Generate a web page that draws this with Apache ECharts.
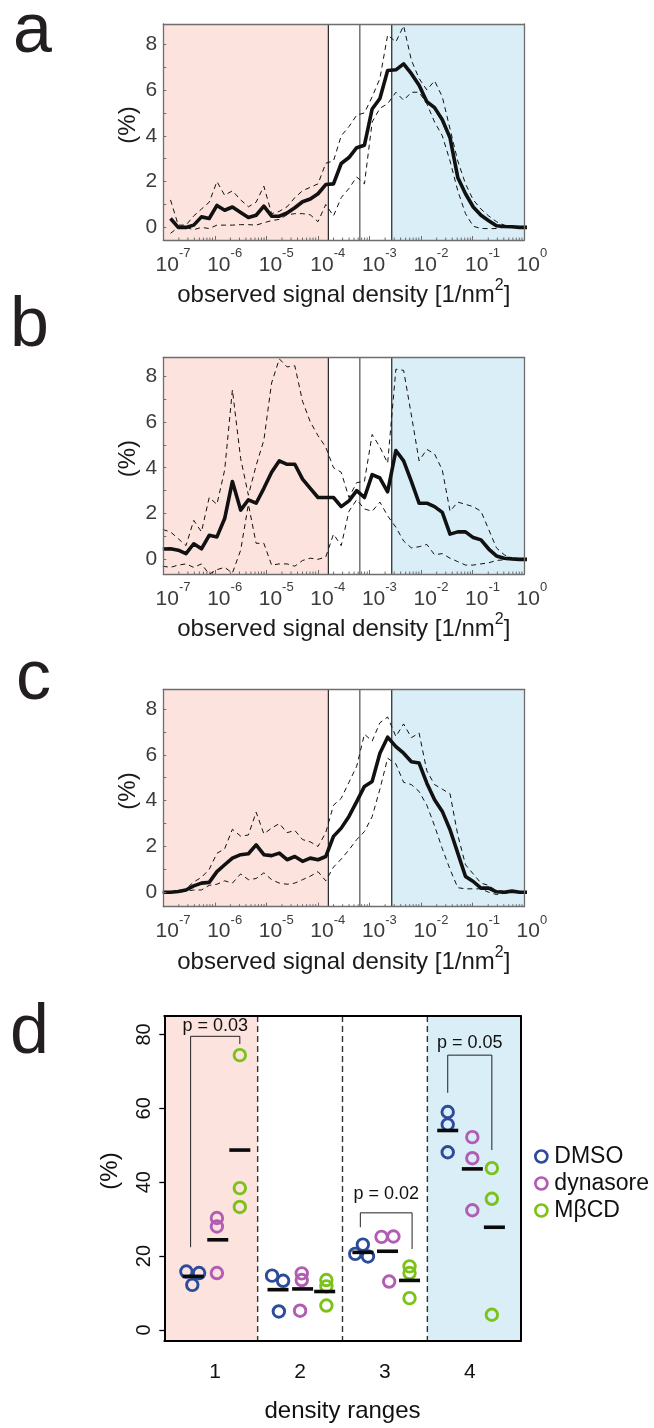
<!DOCTYPE html>
<html><head><meta charset="utf-8">
<script src="https://cdn.jsdelivr.net/npm/echarts@6/dist/echarts.min.js"></script>
<style>html,body{margin:0;padding:0;background:#fff}#chart{width:654px;height:1428px}</style>
</head><body><div id="chart"></div>
<script>
// ---------- data ----------
// bin centres, log10 of observed signal density [1/nm^2]
const logDensity = [-7.01,-6.86,-6.71,-6.56,-6.41,-6.26,-6.11,-5.96,-5.81,-5.66,-5.50,-5.35,-5.20,-5.05,-4.90,-4.75,-4.60,-4.45,-4.30,-4.15,-4.00,-3.85,-3.70,-3.55,-3.40,-3.25,-3.10,-2.95,-2.80,-2.65,-2.49,-2.34,-2.19,-2.04,-1.89,-1.74,-1.59,-1.44,-1.29,-1.14,-0.99,-0.84,-0.69,-0.54,-0.39,-0.24,-0.09,0.06];

const dmsoMean  = [null,0.39,0.0,0.0,0.1,0.46,0.39,0.96,0.75,0.89,0.65,0.43,0.53,0.93,0.49,0.49,0.63,0.86,1.12,1.24,1.47,1.87,1.9,2.79,3.05,3.48,3.59,5.17,5.63,6.85,6.88,7.14,6.71,6.21,5.49,5.23,4.7,3.91,2.18,1.47,0.89,0.53,0.29,0.07,0.04,0.03,0.0,0.0];
const dmsoUpper = [null,1.2,0.1,0.1,0.5,0.8,1.1,2.0,1.4,1.6,1.2,0.9,1.1,1.8,0.6,0.7,0.9,1.3,1.6,1.75,1.9,2.8,2.9,4.0,4.4,4.9,5.0,5.7,6.5,8.4,8.1,8.8,7.3,6.5,6.0,6.4,5.7,4.3,2.9,1.9,1.2,0.8,0.5,0.25,0.1,0.05,0.02,0.0];
const dmsoLower = [null,-0.26,0.0,0.0,-0.1,0.0,-0.05,0.1,0.1,0.1,0.12,0.12,0.1,0.2,0.3,0.35,0.55,0.6,0.6,0.55,0.25,1.0,0.5,1.3,1.7,2.2,1.9,4.6,5.2,5.4,5.9,5.55,5.9,5.9,5.4,4.6,4.0,2.9,1.6,0.6,0.05,-0.05,-0.05,-0.05,0.0,0.0,0.0,0.0];

const mbcdMean  = [0.45,0.46,0.4,0.25,0.68,0.46,1.05,0.98,1.78,3.4,2.15,2.6,2.45,3.1,3.8,4.3,4.15,4.15,3.5,3.1,2.7,2.7,2.7,2.3,2.55,3.0,2.7,3.7,3.55,2.95,4.75,4.3,3.4,2.45,2.45,2.3,2.05,1.1,1.2,1.2,0.95,0.85,0.45,0.15,0.05,0.02,0.0,0.0];
const mbcdUpper = [1.3,1.2,0.9,0.6,1.7,1.2,2.7,2.4,3.9,7.4,4.4,2.8,4.1,5.2,7.7,8.75,8.4,8.45,6.9,6.0,5.4,4.9,4.0,3.8,2.7,3.35,3.4,5.45,4.9,4.2,8.3,8.25,6.3,4.3,4.8,4.6,3.9,2.1,2.5,2.4,2.3,2.1,1.3,0.5,0.2,0.05,0.02,0.0];
const mbcdLower = [-0.3,-0.35,-0.25,-0.2,-0.35,-0.2,-0.65,-0.45,-0.35,-0.6,0.4,2.4,0.7,0.7,-0.25,-0.2,-0.2,-0.3,-0.05,0.05,0.0,0.1,1.1,0.6,2.1,2.6,2.2,2.1,2.5,1.9,1.4,0.8,0.5,0.55,0.65,0.2,0.25,0.05,-0.1,-0.25,-0.25,-0.2,-0.15,-0.05,-0.02,0.0,0.0,0.0];

const dynMean  = [0,0,0.03,0.1,0.28,0.4,0.43,0.9,1.2,1.49,1.64,1.68,2.07,1.64,1.6,1.71,1.42,1.56,1.35,1.49,1.42,1.56,2.44,2.8,3.31,3.96,4.62,4.84,6.07,6.77,6.36,6.07,5.7,5.64,4.76,4.04,3.53,2.73,1.71,0.69,0.47,0.18,0.18,0.02,0.0,0.05,0.0,0.0];
const dynUpper = [0,0,0.03,0.15,0.45,0.65,1.0,1.7,1.9,2.75,2.45,2.5,3.5,2.55,2.8,3.0,2.6,2.7,2.3,2.2,2.0,2.6,3.8,4.1,4.8,5.5,6.9,6.6,7.4,7.65,6.8,7.35,6.75,6.95,5.3,4.7,4.5,4.3,2.5,1.2,0.8,0.4,0.3,0.05,0.05,0.05,0.0,0.0];
const dynLower = [0,0,0.0,0.05,0.1,0.1,0.3,0.35,0.5,0.4,0.8,0.55,0.6,0.85,0.55,0.4,0.35,0.4,0.55,0.7,0.9,0.5,1.1,1.45,1.85,2.3,2.65,3.3,4.5,5.85,5.6,4.8,4.7,4.4,3.8,2.9,1.9,1.0,0.2,0.15,0.15,0.15,0.0,-0.1,-0.05,0.0,0.0,0.0];

const decadeTicks = [-7,-6,-5,-4,-3,-2,-1,0];        // exponents of 10
const percentTicks = [0,2,4,6,8];
const percentMinorTicks = [0,1,2,3,4,5,6,7,8];
const regionBounds = [-3.8,-3.19,-2.57];             // log10 density range borders

// panel d
const densityRanges = ['1','2','3','4'];
const groupNames = ['DMSO','dynasore','MβCD'];
const rangeTicks = [0,20,40,60,80];
const pointsDMSO = [[0.66,15.8],[0.81,15.4],[0.73,12.2],[1.67,14.7],[1.80,13.3],[1.75,5.0],[2.65,20.6],[2.74,23.1],[2.80,19.9],[3.74,59.0],[3.74,55.6],[3.74,48.1]];
const pointsDyn  = [[1.02,30.3],[1.02,28.0],[1.02,15.4],[2.02,15.3],[2.02,13.5],[2.00,5.2],[2.96,25.2],[3.10,25.3],[3.05,13.1],[4.03,52.2],[4.03,46.5],[4.03,32.4]];
const pointsMBCD = [[1.29,74.4],[1.29,38.4],[1.29,33.3],[2.31,13.5],[2.31,11.8],[2.31,6.6],[3.29,17.2],[3.29,15.4],[3.29,8.6],[4.26,43.8],[4.26,35.5],[4.26,4.1]];
const meansDMSO = [14.5,10.9,21.0,54.0];
const meansDyn  = [24.4,11.1,21.3,43.6];
const meansMBCD = [48.7,10.4,13.4,27.8];
const pValues = ['0.03','0.02','0.05'];
const bracketX = [[0.71,1.29],[2.71,3.32],[3.74,4.26]];
const bracketTop = [79.5,31.7,74.4];
const bracketLeftEnd = [22.4,27.8,64.2];
const bracketRightEnd = [77.4,21.9,48.7];
const bracketLabelY = [82.3,36.8,77.8];

// ---------- styling / layout ----------
const FONT = '"Liberation Sans", Arial, Helvetica, sans-serif';
const PINK = '#fce3de', BLUE = '#d9eef6';
const FRAME = '#6e6e6e';
const groupColors = ['#2c4b9b','#b25cb4','#7cc21a'];
const groupOffsets = [-0.26, 0.03, 0.29];

const panels = [
  {name:'DMSO', mean:dmsoMean, upper:dmsoUpper, lower:dmsoLower, top:24, height:216, ymin:-0.55, ymax:8.88, letter:'a', letterX:13, letterY:33, labelY:44.7},
  {name:'MβCD', mean:mbcdMean, upper:mbcdUpper, lower:mbcdLower, top:357.3, height:216.7, ymin:-0.64, ymax:8.82, letter:'b', letterX:10, letterY:327, labelY:379.6},
  {name:'dynasore', mean:dynMean, upper:dynUpper, lower:dynLower, top:689.3, height:217.4, ymin:-0.63, ymax:8.86, letter:'c', letterX:16, letterY:680, labelY:709}
];

const minorTickPos = [];
for (let e = -7; e < 0; e++) for (let m = 2; m <= 9; m++) minorTickPos.push(e + Math.log10(m));

const grids = [], xAxes = [], yAxes = [], series = [], graphics = [];

panels.forEach((P, i) => {
  grids.push({left:163.3, top:P.top, width:361, height:P.height});
  xAxes.push({
    gridIndex:i, type:'value', min:-7, max:0, interval:1, z:10,
    axisLine:{show:true, onZero:false, lineStyle:{color:FRAME, width:1.3}},
    axisTick:{show:true, inside:true, length:4, lineStyle:{color:FRAME}},
    splitLine:{show:false},
    axisLabel:{
      margin:7, padding:[0,0,0,8], color:'#3c3c3c',
      formatter: v => { const s = String(Math.round(v)); return `{g|${s}}{b|10}{s|${s}}`; },
      rich:{
        b:{fontSize:21, lineHeight:36, fontFamily:FONT, color:'#3c3c3c'},
        s:{fontSize:13, lineHeight:13, verticalAlign:'top', fontFamily:FONT, color:'#3c3c3c'},
        g:{fontSize:13, lineHeight:13, verticalAlign:'top', fontFamily:FONT, color:'rgba(0,0,0,0)'}
      }
    },
    name:'{t|observed signal density [1/nm}{u|2}{t|]}', nameLocation:'middle', nameGap:38,
    nameMoveOverlap:false,
    nameTextStyle:{rich:{
      t:{fontSize:24, lineHeight:35, fontFamily:FONT, color:'#1a1a1a'},
      u:{fontSize:16, lineHeight:16, verticalAlign:'top', fontFamily:FONT, color:'#1a1a1a'}
    }}
  });
  xAxes.push({gridIndex:i, type:'value', min:-7, max:0, position:'top', z:10,
    axisLine:{show:true, onZero:false, lineStyle:{color:FRAME, width:1.3}},
    axisTick:{show:false}, axisLabel:{show:false}, splitLine:{show:false}});
  yAxes.push({
    gridIndex:i, type:'value', min:P.ymin, max:P.ymax, z:10,
    axisLine:{show:true, onZero:false, lineStyle:{color:FRAME, width:1.3}},
    axisTick:{show:true, inside:true, length:3, customValues:percentMinorTicks, lineStyle:{color:FRAME}},
    axisLabel:{customValues:percentTicks, margin:6, fontSize:21, fontFamily:FONT, color:'#3c3c3c'},
    splitLine:{show:false},
    name:'(%)', nameLocation:'middle', nameRotate:90, nameGap:23, nameMoveOverlap:false,
    nameTextStyle:{fontSize:24, fontFamily:FONT, color:'#1a1a1a', padding:[0,0,0,14]}
  });
  yAxes.push({gridIndex:i, type:'value', min:P.ymin, max:P.ymax, position:'right', z:10,
    axisLine:{show:true, onZero:false, lineStyle:{color:FRAME, width:1.3}},
    axisTick:{show:false}, axisLabel:{show:false}, splitLine:{show:false}});

  const xi = 2*i, yi = 2*i;
  // coloured density ranges
  series.push({
    type:'custom', xAxisIndex:xi, yAxisIndex:yi, silent:true, z:1,
    data:[[-7, regionBounds[0]], [regionBounds[2], 0]],
    renderItem:(params, api) => {
      const p0 = api.coord([api.value(0), P.ymax]);
      const p1 = api.coord([api.value(1), P.ymin]);
      return {type:'rect', shape:{x:p0[0], y:p0[1], width:p1[0]-p0[0], height:p1[1]-p0[1]},
        style:{fill: params.dataIndex === 0 ? PINK : BLUE}};
    }
  });
  // range borders
  series.push({
    type:'custom', xAxisIndex:xi, yAxisIndex:yi, silent:true, z:2,
    data:regionBounds.map(b => [b, 0]),
    renderItem:(params, api) => {
      const p0 = api.coord([api.value(0), P.ymax]);
      const p1 = api.coord([api.value(0), P.ymin]);
      const mid = params.dataIndex === 1;
      return {type:'line', shape:{x1:p0[0], y1:p0[1], x2:p1[0], y2:p1[1]},
        style:{stroke: mid ? '#7a7a7a' : '#111', lineWidth: mid ? 1.6 : 1.1}};
    }
  });
  // log minor ticks
  series.push({
    type:'custom', xAxisIndex:xi, yAxisIndex:yi, silent:true, z:3,
    data:minorTickPos.map(v => [v, 0]),
    renderItem:(params, api) => {
      const p = api.coord([api.value(0), P.ymin]);
      return {type:'line', shape:{x1:p[0], y1:p[1], x2:p[0], y2:p[1]-2.5}, style:{stroke:FRAME, lineWidth:1}};
    }
  });
  const mk = arr => logDensity.map((x, k) => [x, arr[k]]);
  [P.upper, P.lower].forEach(arr => series.push({
    type:'line', xAxisIndex:xi, yAxisIndex:yi, data:mk(arr), symbol:'none', silent:true, z:4,
    lineStyle:{color:'#111', width:1, type:[5,4]}, clip:true
  }));
  series.push({
    type:'line', xAxisIndex:xi, yAxisIndex:yi, data:mk(P.mean), symbol:'none', silent:true, z:5,
    lineStyle:{color:'#111', width:3.6, join:'round'}, clip:true
  });

  graphics.push({type:'text', x:P.letterX, y:P.letterY, silent:true,
    style:{text:P.letter, fontSize:70, fontFamily:FONT, fill:'#231f20', verticalAlign:'middle'}});
  graphics.push({type:'text', x:175, y:P.labelY, silent:true,
    style:{text:P.name, fontSize:24, fontFamily:FONT, fill:'#231f20', verticalAlign:'middle'}});
});

// ---------- panel d ----------
const D = {ymin:-3, ymax:85, xmin:0.4, xmax:4.6};
grids.push({left:164.3, top:1016, width:356.4, height:325});
xAxes.push({
  gridIndex:3, type:'value', min:D.xmin, max:D.xmax, z:10,
  axisLine:{show:true, onZero:false, lineStyle:{color:'#000', width:2}},
  axisTick:{show:false}, splitLine:{show:false},
  axisLabel:{customValues:[1,2,3,4], formatter:v => densityRanges[Math.round(v)-1], margin:21,
    fontSize:21, fontFamily:FONT, color:'#111'},
  name:'density ranges', nameLocation:'middle', nameGap:58,
  nameTextStyle:{fontSize:24, fontFamily:FONT, color:'#111'}
});
xAxes.push({gridIndex:3, type:'value', min:D.xmin, max:D.xmax, position:'top', z:10,
  axisLine:{show:true, onZero:false, lineStyle:{color:'#000', width:2}},
  axisTick:{show:false}, axisLabel:{show:false}, splitLine:{show:false}});
yAxes.push({
  gridIndex:3, type:'value', min:D.ymin, max:D.ymax, z:10,
  axisLine:{show:true, onZero:false, lineStyle:{color:'#000', width:2}},
  axisTick:{show:true, length:5, customValues:rangeTicks, lineStyle:{color:'#000', width:1.3}},
  axisLabel:{customValues:rangeTicks, rotate:90, margin:10, fontSize:20, fontFamily:FONT, color:'#111'},
  splitLine:{show:false},
  name:'(%)', nameLocation:'middle', nameRotate:90, nameGap:42,
  nameTextStyle:{fontSize:24, fontFamily:FONT, color:'#111', padding:[0,0,0,15]}
});
yAxes.push({gridIndex:3, type:'value', min:D.ymin, max:D.ymax, position:'right', z:10,
  axisLine:{show:true, onZero:false, lineStyle:{color:'#000', width:2}},
  axisTick:{show:false}, axisLabel:{show:false}, splitLine:{show:false}});

series.push({
  type:'custom', xAxisIndex:6, yAxisIndex:6, silent:true, z:1,
  data:[[0.4,1.5],[3.5,4.6]],
  renderItem:(params, api) => {
    const p0 = api.coord([api.value(0), D.ymax]);
    const p1 = api.coord([api.value(1), D.ymin]);
    return {type:'rect', shape:{x:p0[0], y:p0[1], width:p1[0]-p0[0], height:p1[1]-p0[1]},
      style:{fill: params.dataIndex === 0 ? PINK : BLUE}};
  }
});
series.push({
  type:'custom', xAxisIndex:6, yAxisIndex:6, silent:true, z:2,
  data:[[1.5,0],[2.5,0],[3.5,0]],
  renderItem:(params, api) => {
    const p0 = api.coord([api.value(0), D.ymax]);
    const p1 = api.coord([api.value(0), D.ymin]);
    return {type:'line', shape:{x1:p0[0], y1:p0[1], x2:p1[0], y2:p1[1]},
      style:{stroke:'#333', lineWidth:1.4, lineDash:[6,4]}};
  }
});
[pointsDMSO, pointsDyn, pointsMBCD].forEach((pts, g) => series.push({
  type:'scatter', name:groupNames[g], xAxisIndex:6, yAxisIndex:6, data:pts, z:4,
  symbol:'circle', symbolSize:11.5,
  itemStyle:{color:'rgba(255,255,255,0)', borderColor:groupColors[g], borderWidth:2.9, opacity:1}
}));
[meansDMSO, meansDyn, meansMBCD].forEach((m, g) => series.push({
  type:'scatter', xAxisIndex:6, yAxisIndex:6, z:5, silent:true,
  data:m.map((v, c) => [c + 1 + groupOffsets[g], v]),
  symbol:'rect', symbolSize:[21,3.6], itemStyle:{color:'#0a0a0a', opacity:1}
}));
series.push({
  type:'custom', xAxisIndex:6, yAxisIndex:6, silent:true, z:6,
  data:pValues.map((p, i) => [bracketX[i][0], bracketX[i][1], bracketTop[i], bracketLeftEnd[i], bracketRightEnd[i], bracketLabelY[i]]),
  renderItem:(params, api) => {
    const i = params.dataIndex;
    const x1 = api.value(0), x2 = api.value(1), top = api.value(2);
    const a = api.coord([x1, api.value(3)]), b = api.coord([x1, top]);
    const c = api.coord([x2, top]), d = api.coord([x2, api.value(4)]);
    const t = api.coord([(x1 + x2) / 2, api.value(5)]);
    return {type:'group', children:[
      {type:'polyline', shape:{points:[a, b, c, d]}, style:{stroke:'#222', lineWidth:1, fill:null}},
      {type:'text', x:t[0], y:t[1], style:{text:'p = ' + pValues[i], fontSize:18, fontFamily:FONT, fill:'#111', align:'center', verticalAlign:'middle'}}
    ]};
  }
});

graphics.push({type:'text', x:10, y:1034, silent:true,
  style:{text:'d', fontSize:70, fontFamily:FONT, fill:'#231f20', verticalAlign:'middle'}});

const option = {
  animation:false,
  textStyle:{fontFamily:FONT},
  grid:grids, xAxis:xAxes, yAxis:yAxes, series:series, graphic:graphics,
  legend:{
    data:groupNames, orient:'vertical', left:529, top:1140, itemWidth:12, itemHeight:12, itemGap:4,
    icon:'circle', selectedMode:false,
    itemStyle:{borderWidth:2.7, opacity:1},
    textStyle:{fontSize:23, fontFamily:FONT, color:'#111', lineHeight:23, padding:[0,0,0,2]}
  }
};
const chart = echarts.init(document.getElementById('chart'), null, {renderer:'canvas'});
chart.setOption(option);
</script></body></html>
